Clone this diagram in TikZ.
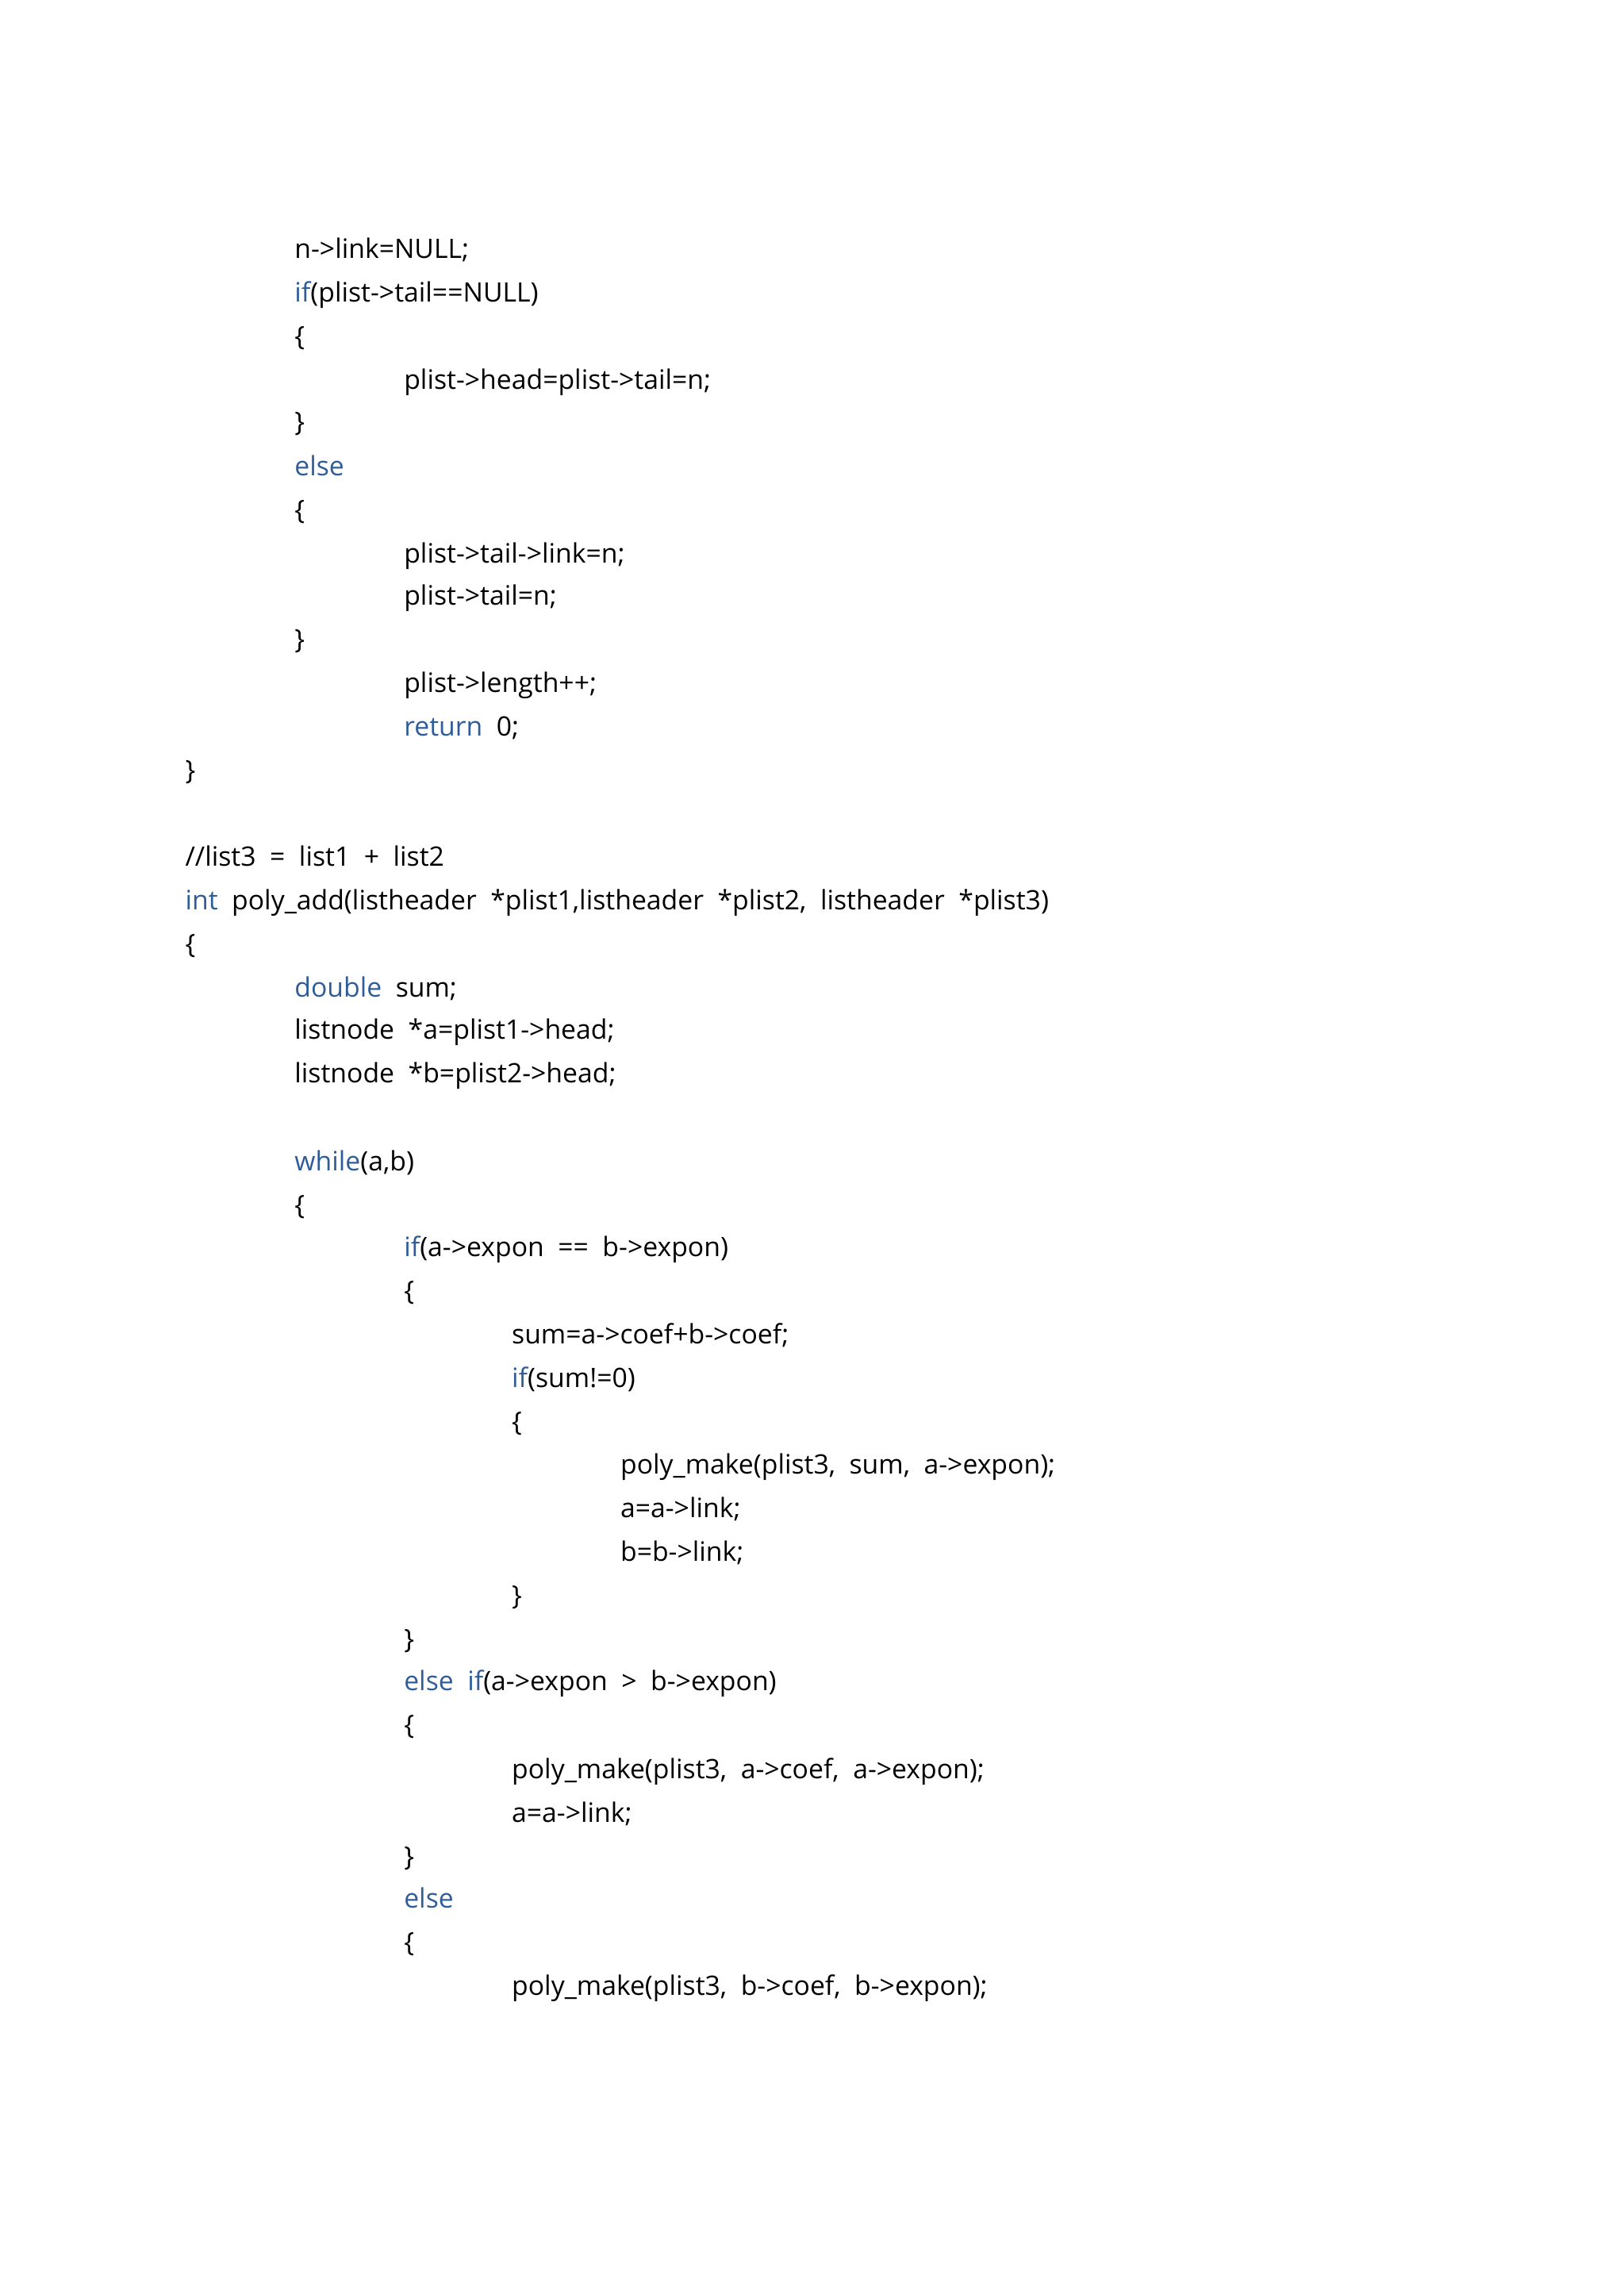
\documentclass[tikz,border=0pt]{standalone}
\usepackage{fontspec}
\setmainfont{Open Sans}
\definecolor{kw}{HTML}{2F5D9A}
\begin{document}
\begin{tikzpicture}[x=0.01cm,y=-0.01837cm,
  code/.style={anchor=mid west,inner sep=0pt,font=\fontsize{9.6}{11}\selectfont}]
\useasboundingbox (0,0) rectangle (2048,1574);
\def\a{233}\def\b{371}\def\c{509}\def\d{645}\def\e{782}
\node[code] (l1) at (\b,172) {n->link=NULL;};
\node[code] (l2) at (\b,202) {\textcolor{kw}{if}(plist->tail==NULL)};
\node[code] (l3) at (\b,232) {\{};
\node[code] (l4) at (\c,262) {plist->head=plist->tail=n;};
\node[code] (l5) at (\b,291) {\}};
\node[code] (l6) at (\b,321) {\textcolor{kw}{else}};
\node[code] (l7) at (\b,351) {\{};
\node[code] (l8) at (\c,381) {plist->tail->link=n;};
\node[code] (l9) at (\c,410) {plist->tail=n;};
\node[code] (l10) at (\b,440) {\}};
\node[code] (l11) at (\c,470) {plist->length++;};
\node[code] (l12) at (\c,500) {\textcolor{kw}{return}\ \ 0;};
\node[code] (l13) at (\a,530) {\}};
\node[code] (l14) at (\a,589) {//list3\ \ =\ \ list1\ \ +\ \ list2};
\node[code] (l15) at (\a,619) {\textcolor{kw}{int}\ \ poly\_add(listheader\ \ *plist1,listheader\ \ *plist2,\ \ listheader\ \ *plist3)};
\node[code] (l16) at (\a,649) {\{};
\node[code] (l17) at (\b,679) {\textcolor{kw}{double}\ \ sum;};
\node[code] (l18) at (\b,708) {listnode\ \ *a=plist1->head;};
\node[code] (l19) at (\b,738) {listnode\ \ *b=plist2->head;};
\node[code] (l20) at (\b,798) {\textcolor{kw}{while}(a,b)};
\node[code] (l21) at (\b,828) {\{};
\node[code] (l22) at (\c,857) {\textcolor{kw}{if}(a->expon\ \ ==\ \ b->expon)};
\node[code] (l23) at (\c,887) {\{};
\node[code] (l24) at (\d,917) {sum=a->coef+b->coef;};
\node[code] (l25) at (\d,947) {\textcolor{kw}{if}(sum!=0)};
\node[code] (l26) at (\d,977) {\{};
\node[code] (l27) at (\e,1006) {poly\_make(plist3,\ \ sum,\ \ a->expon);};
\node[code] (l28) at (\e,1036) {a=a->link;};
\node[code] (l29) at (\e,1066) {b=b->link;};
\node[code] (l30) at (\d,1096) {\}};
\node[code] (l31) at (\c,1126) {\}};
\node[code] (l32) at (\c,1155) {\textcolor{kw}{else}\ \ \textcolor{kw}{if}(a->expon\ \ >\ \ b->expon)};
\node[code] (l33) at (\c,1185) {\{};
\node[code] (l34) at (\d,1215) {poly\_make(plist3,\ \ a->coef,\ \ a->expon);};
\node[code] (l35) at (\d,1245) {a=a->link;};
\node[code] (l36) at (\c,1275) {\}};
\node[code] (l37) at (\c,1304) {\textcolor{kw}{else}};
\node[code] (l38) at (\c,1334) {\{};
\node[code] (l39) at (\d,1364) {poly\_make(plist3,\ \ b->coef,\ \ b->expon);};
\end{tikzpicture}
\end{document}
